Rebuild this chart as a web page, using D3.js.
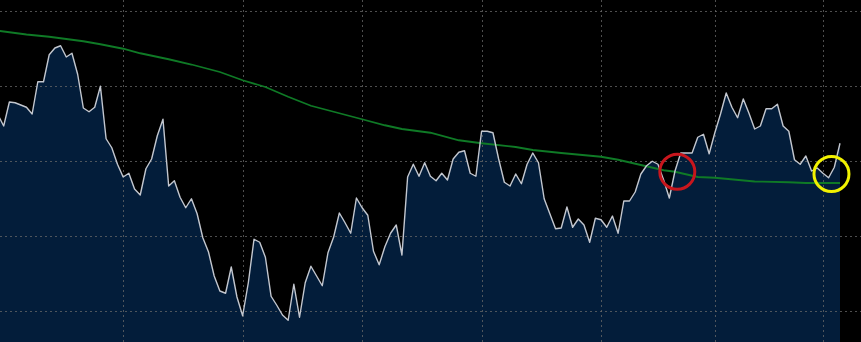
<!DOCTYPE html>
<html>
<head>
<meta charset="utf-8">
<script src="https://cdn.jsdelivr.net/npm/d3@7"></script>
<style>
  html, body { margin: 0; padding: 0; background: #000; }
  svg { display: block; }
</style>
</head>
<body>
<div id="chart"></div>
<script>
"use strict";

// daily closes, one per trading day (first point sits just off the left edge)
const prices = [
  126.1, 124.6, 127.8, 127.7, 127.4, 127.1, 126.2, 130.5, 130.5, 134.1,
  135.0, 135.3, 133.8, 134.3, 131.5, 127.0, 126.5, 127.1, 129.9, 122.9,
  121.7, 119.5, 117.8, 118.3, 116.2, 115.4, 118.9, 120.2, 123.3, 125.5,
  116.6, 117.3, 115.1, 113.7, 114.9, 112.9, 109.7, 107.8, 104.6, 102.6,
  102.3, 105.8, 101.8, 99.3, 103.7, 109.5, 109.1, 107.1, 101.9, 100.7,
  99.4, 98.7, 103.5, 99.1, 103.7, 105.9, 104.6, 103.3, 107.7, 109.8,
  113.0, 111.7, 110.3, 115.0, 113.7, 112.7, 107.9, 106.1, 108.5, 110.3,
  111.4, 107.4, 117.8, 119.5, 117.9, 119.7, 117.9, 117.3, 118.3, 117.4,
  120.2, 121.1, 121.3, 118.3, 117.9, 123.9, 123.9, 123.7, 120.2, 117.1,
  116.6, 118.2, 116.9, 119.5, 121.0, 119.7, 114.9, 112.9, 110.9, 111.0,
  113.8, 111.1, 112.2, 111.4, 109.1, 112.3, 112.1, 111.1, 112.6, 110.3,
  114.6, 114.6, 115.8, 118.2, 119.3, 119.9, 119.5, 117.4, 115.0, 118.6,
  121.0, 121.0, 121.0, 123.1, 123.5, 120.9, 123.7, 126.2, 129.0, 127.1,
  125.7, 128.2, 126.3, 124.2, 124.6, 126.9, 126.9, 127.5, 124.6, 123.9,
  120.1, 119.5, 120.6, 118.6, 119.0, 118.3, 117.7, 119.1, 122.3
];

// long moving average, read at these day indices
const maDays = [0, 5, 9, 13, 15, 18, 22, 25, 30, 34, 39, 43, 47, 51, 55, 59, 64, 68, 71, 76,
  81, 85, 91, 94, 99, 106, 109, 113, 117, 119, 123, 126, 133, 139, 142, 145, 148];
const maValues = [137.3, 136.8, 136.5, 136.1, 135.9, 135.5, 134.9, 134.3, 133.5, 132.8,
  131.8, 130.7, 129.8, 128.5, 127.3, 126.5, 125.5, 124.7, 124.2, 123.7,
  122.7, 122.3, 121.8, 121.4, 121.0, 120.5, 120.1, 119.4, 118.7, 118.5,
  117.8, 117.7, 117.2, 117.1, 117.0, 117.0, 117.0];

// month starts (day index) and price grid levels
const monthDays = [22, 43, 64, 85, 106, 126, 145];
const priceLevels = [100, 110, 120, 130, 140];

// circled spots
const marks = [
  { day: 119.4, value: 118.5, color: "#c8161d" },
  { day: 146.5, value: 118.2, color: "#f2f200" }
];

const width = 861, height = 342;

const svg = d3.select("#chart").append("svg")
  .attr("width", width)
  .attr("height", height)
  .style("background", "#000");

const x = d3.scaleLinear().domain([0, prices.length - 1]).range([-2, 840]);
const y = d3.scaleLinear().domain([95.8, 141.4]).range([height, 0]);

svg.append("path")
  .datum(prices)
  .attr("fill", "#031d3a")
  .attr("d", d3.area()
    .x((d, i) => x(i))
    .y0(height)
    .y1(d => y(d)));

const grid = svg.append("g")
  .attr("stroke", "#6a6a6a")
  .attr("stroke-opacity", 0.75)
  .attr("stroke-width", 1)
  .attr("stroke-dasharray", "2,3");

grid.selectAll(".h")
  .data(priceLevels)
  .enter().append("line")
  .attr("x1", 0).attr("x2", width)
  .attr("y1", d => Math.round(y(d)) + 0.5)
  .attr("y2", d => Math.round(y(d)) + 0.5);

grid.selectAll(".v")
  .data(monthDays)
  .enter().append("line")
  .attr("y1", 0).attr("y2", height)
  .attr("x1", d => Math.round(x(d)) + 0.5)
  .attr("x2", d => Math.round(x(d)) + 0.5);

svg.append("path")
  .datum(maDays.map((d, i) => [d, maValues[i]]))
  .attr("fill", "none")
  .attr("stroke", "#0f7a26")
  .attr("stroke-width", 1.8)
  .attr("d", d3.line()
    .x(d => x(d[0]))
    .y(d => y(d[1])));

svg.append("path")
  .datum(prices)
  .attr("fill", "none")
  .attr("stroke", "#c3c7cf")
  .attr("stroke-width", 1.4)
  .attr("stroke-linejoin", "round")
  .attr("d", d3.line()
    .x((d, i) => x(i))
    .y(d => y(d)));

svg.selectAll(".mark")
  .data(marks)
  .enter().append("circle")
  .attr("cx", d => x(d.day))
  .attr("cy", d => y(d.value))
  .attr("r", 17.5)
  .attr("fill", "none")
  .attr("stroke", d => d.color)
  .attr("stroke-width", 3);
</script>
</body>
</html>
